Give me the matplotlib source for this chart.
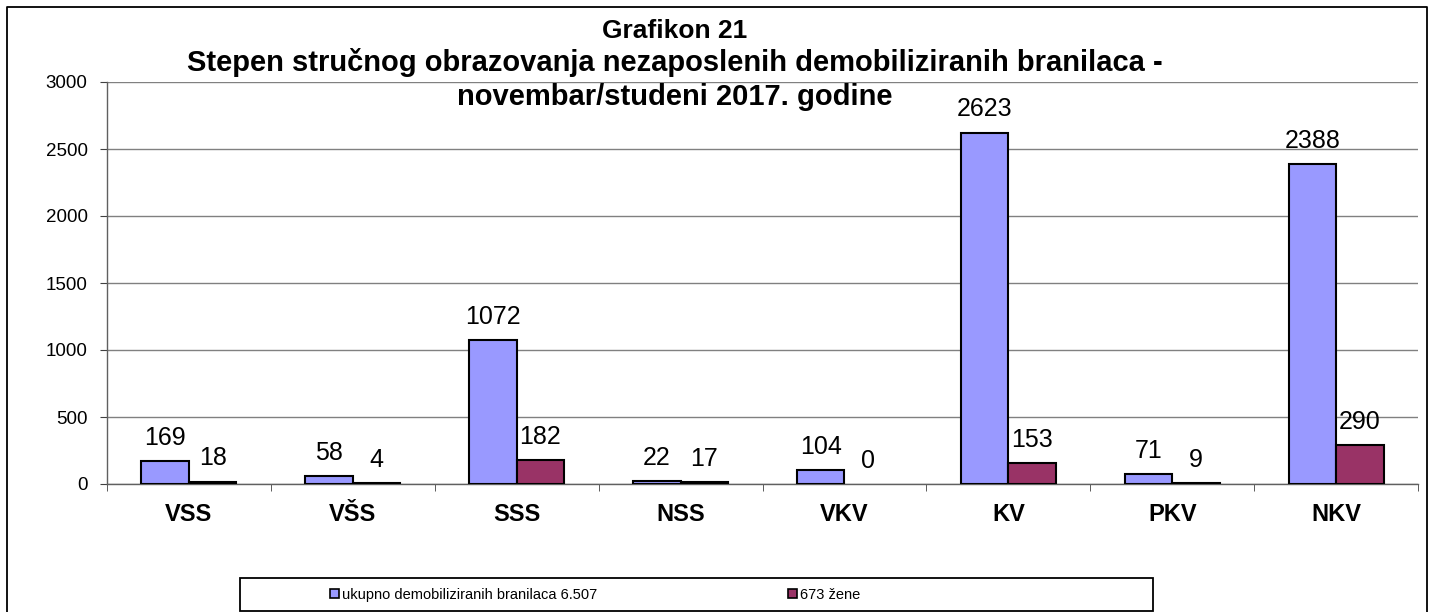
import numpy as np
import matplotlib
matplotlib.use('Agg')
import matplotlib.pyplot as plt
from matplotlib.lines import Line2D
from matplotlib.patches import Rectangle, Patch

plt.rcParams['font.family'] = ['Liberation Sans', 'DejaVu Sans']

# data
categories = ['VSS', 'VŠS', 'SSS', 'NSS', 'VKV', 'KV', 'PKV', 'NKV']
ukupno = [169, 58, 1072, 22, 104, 2623, 71, 2388]
zene = [18, 4, 182, 17, 0, 153, 9, 290]
label_ukupno = 'ukupno demobiliziranih branilaca 6.507'
label_zene = '673 žene'
title_lines = ['Grafikon 21',
               'Stepen stručnog obrazovanja nezaposlenih demobiliziranih branilaca -',
               'novembar/studeni 2017. godine']

W, H = 1432, 612
fig = plt.figure(figsize=(W / 100, H / 100), dpi=100)

# plot area in pixels: x 107..1418, y 82..484
ax = fig.add_axes([107 / W, 1 - 484 / H, (1418 - 107) / W, (484 - 82) / H])

blue = '#9999FF'
maroon = '#993366'
width = 0.29
x = np.arange(len(categories))

b1 = ax.bar(x - width / 2, ukupno, width, color=blue, edgecolor='black', linewidth=1.5, zorder=3)
b2 = ax.bar(x + width / 2, zene, width, color=maroon, edgecolor='black', linewidth=1.5, zorder=3)
# zero-height bars draw no outline
for bars in (b1, b2):
    for r in bars:
        if r.get_height() == 0:
            r.set_linewidth(0)
ax.bar_label(b1, padding=8, fontsize=18, zorder=4)
ax.bar_label(b2, padding=8, fontsize=18, zorder=4)

ax.set_xlim(-0.5, len(categories) - 0.5)
ax.set_ylim(0, 3000)
ax.set_yticks(np.arange(0, 3001, 500))
ax.yaxis.grid(True, color='#808080', linewidth=1)
ax.set_axisbelow(True)

ax.set_xticks(x)
ax.set_xticklabels(categories, fontsize=17, fontweight='bold')
ax.set_xticks(np.arange(-0.5, len(categories)), minor=True)
ax.tick_params(axis='x', which='major', length=0, pad=14)
ax.tick_params(axis='x', which='minor', length=5, color='#404040', direction='out')
ax.tick_params(axis='y', labelsize=13.5, length=5, color='#404040', pad=9)

for s in ['top', 'right']:
    ax.spines[s].set_visible(False)
for s in ['left', 'bottom']:
    ax.spines[s].set_color('#606060')
    ax.spines[s].set_linewidth(1)

# title
cx = 675 / W
for line, base, size in zip(title_lines, [38, 71, 105], [19, 21, 21]):
    fig.text(cx, 1 - base / H, line, ha='center', va='baseline', fontsize=size, fontweight='bold')

# outer border (bottom cut off)
fig.add_artist(Line2D([7 / W, 7 / W, 1427 / W, 1427 / W], [0, 1 - 7 / H, 1 - 7 / H, 0],
                      transform=fig.transFigure, color='black', linewidth=1.3))

# legend box
fig.add_artist(Rectangle((240 / W, 1 - 611 / H), (1153 - 240) / W, (611 - 578) / H,
                         transform=fig.transFigure, facecolor='white', edgecolor='black', linewidth=1.3))
ycen = 1 - 595 / H
for lab, col, xpos in [(label_ukupno, blue, 330), (label_zene, maroon, 788)]:
    fig.legend(handles=[Patch(facecolor=col, edgecolor='black', linewidth=1.2)], labels=[lab],
               loc='center left', bbox_to_anchor=(xpos / W, ycen), frameon=False, fontsize=10.5,
               handlelength=0.6, handleheight=0.6, handletextpad=0.2, borderpad=0, borderaxespad=0)

fig.savefig('out.png', dpi=100)
